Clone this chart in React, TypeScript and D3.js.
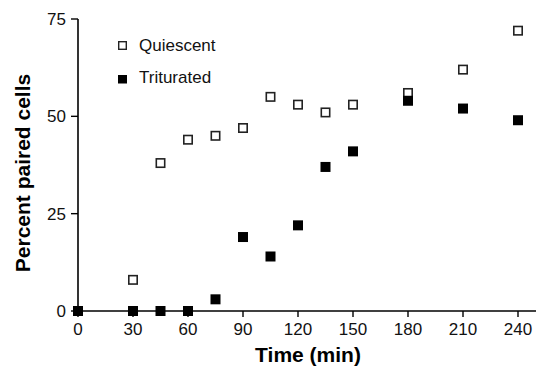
import React from "react";
import * as d3 from "d3";

const times = [0, 30, 45, 60, 75, 90, 105, 120, 135, 150, 180, 210, 240];
const quiescent = [null, 8, 38, 44, 45, 47, 55, 53, 51, 53, 56, 62, 72];
const triturated = [0, 0, 0, 0, 3, 19, 14, 22, 37, 41, 54, 52, 49];
const xTicks = [0, 30, 60, 90, 120, 150, 180, 210, 240];
const yTicks = [0, 25, 50, 75];
const seriesNames = ["Quiescent", "Triturated"];

export default function App() {
  const W = 536, H = 368;
  const x = d3.scaleLinear().domain([0, 240]).range([78, 518]);
  const y = d3.scaleLinear().domain([0, 75]).range([311, 19]);
  const font = "Liberation Sans, Arial, sans-serif";
  const s = 10;
  return (
    <svg width={W} height={H} style={{ position: "absolute", left: 0, top: 0 }} fontFamily={font}>
      <rect width={W} height={H} fill="#fff" />
      {/* axes */}
      <line x1={x(0)} x2={536} y1={y(0)} y2={y(0)} stroke="#000" strokeWidth={1.6} />
      <line x1={x(0)} x2={x(0)} y1={y(75)} y2={y(0)} stroke="#000" strokeWidth={1.6} />
      {yTicks.map((t) => (
        <g key={"y" + t}>
          <line x1={x(0) - 7} x2={x(0)} y1={y(t)} y2={y(t)} stroke="#000" strokeWidth={1.4} />
          <text x={x(0) - 12} y={y(t) + 6} fontSize={17} textAnchor="end" fill="#111">{t}</text>
        </g>
      ))}
      {xTicks.map((t) => (
        <g key={"x" + t}>
          <line x1={x(t)} x2={x(t)} y1={y(0)} y2={y(0) + 6} stroke="#000" strokeWidth={1.4} />
          <text x={x(t)} y={335} fontSize={17} textAnchor="middle" fill="#111">{t}</text>
        </g>
      ))}
      <text x={(x(0) + x(240)) / 2 + 10} y={362} fontSize={21} fontWeight="bold" textAnchor="middle">Time (min)</text>
      <text transform={`translate(30,173) rotate(-90)`} fontSize={21} fontWeight="bold" textAnchor="middle">Percent paired cells</text>
      {/* data */}
      {times.map((t, i) =>
        quiescent[i] == null ? null : (
          <rect key={"q" + i} x={x(t) - s / 2 + 0.8} y={y(quiescent[i] as number) - s / 2 + 0.8} width={s - 1.6} height={s - 1.6} fill="#fff" stroke="#222" strokeWidth={1.6} />
        )
      )}
      {times.map((t, i) => (
        <rect key={"t" + i} x={x(t) - s / 2} y={y(triturated[i]) - s / 2} width={s} height={s} fill="#000" />
      ))}
      {/* legend */}
      <rect x={118.7} y={41.7} width={7.6} height={7.6} fill="#fff" stroke="#222" strokeWidth={1.4} />
      <text x={139} y={51} fontSize={17} fill="#111">{seriesNames[0]}</text>
      <rect x={118} y={75} width={9} height={8.5} fill="#000" />
      <text x={139} y={83} fontSize={17} fill="#111">{seriesNames[1]}</text>
    </svg>
  );
}
